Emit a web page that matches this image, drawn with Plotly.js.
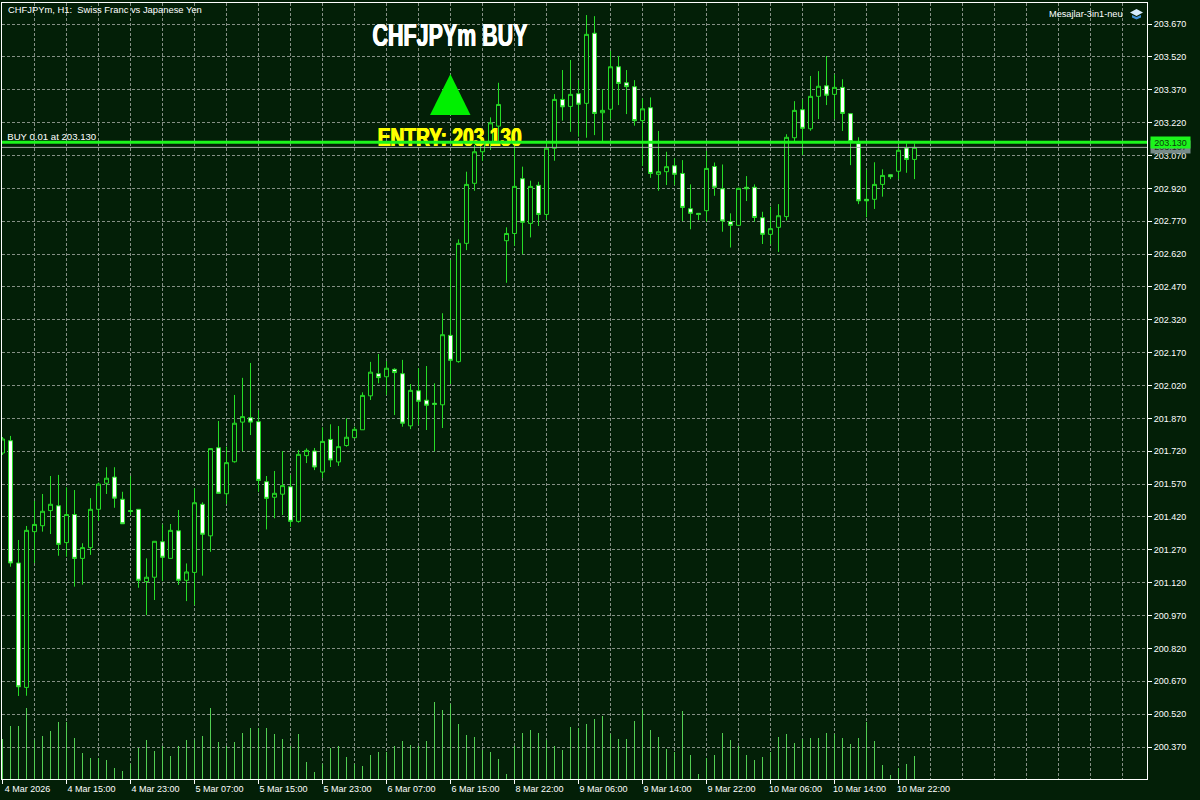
<!DOCTYPE html>
<html>
<head>
<meta charset="utf-8">
<script src="https://cdn.plot.ly/plotly-3.0.1.min.js"></script>
<style>html,body{margin:0;padding:0;background:#031f07;}#chart{width:1200px;height:800px;}</style>
</head>
<body>
<div id="chart"></div>
<script>
var open = [201.712,201.768,201.210,200.642,201.353,201.380,201.449,201.471,201.303,201.431,201.231,201.280,201.455,201.574,201.602,201.501,201.449,201.455,201.125,201.145,201.307,201.231,201.357,201.131,201.167,201.478,201.334,201.736,201.526,201.672,201.853,201.873,201.855,201.581,201.510,201.524,201.558,201.400,201.700,201.721,201.625,201.774,201.671,201.746,201.782,201.818,201.973,202.074,202.060,202.094,202.074,201.836,201.996,201.953,201.939,201.932,202.249,202.129,202.669,202.943,203.087,203.127,203.204,202.681,202.714,202.964,202.760,202.934,202.801,203.103,203.326,203.294,203.352,203.308,203.628,203.265,203.281,203.475,203.402,203.384,203.229,203.288,202.984,202.996,203.023,202.988,202.827,202.806,202.818,203.020,202.918,202.768,202.751,202.925,202.925,202.786,202.710,202.742,202.791,203.151,203.279,203.192,203.340,203.388,203.349,203.381,203.261,203.124,202.870,202.870,202.938,202.982,202.998,203.104,203.052];
var high = [201.785,201.790,201.315,201.379,201.494,201.525,201.607,201.612,201.555,201.543,201.300,201.506,201.577,201.647,201.647,201.535,201.607,201.455,201.231,201.310,201.386,201.388,201.452,201.208,201.551,201.487,201.733,201.858,201.741,201.977,202.055,202.123,201.908,201.607,201.630,201.721,201.612,201.726,201.733,201.735,201.829,201.843,201.835,201.870,201.832,201.989,202.128,202.164,202.132,202.099,202.137,202.027,202.099,202.109,202.030,202.350,202.593,202.687,202.996,203.118,203.141,203.244,203.402,202.742,203.141,203.019,202.955,202.950,203.133,203.350,203.460,203.506,203.414,203.711,203.706,203.372,203.548,203.524,203.460,203.414,203.331,203.335,203.182,203.087,203.057,203.049,202.938,202.807,203.091,203.038,203.029,202.806,202.923,202.976,202.938,202.813,202.836,202.848,203.167,203.318,203.326,203.433,203.455,203.524,203.440,203.418,203.262,203.153,203.004,203.039,203.007,202.984,203.118,203.125,203.125];
var low = [201.703,201.193,200.603,200.604,201.210,201.353,201.342,201.243,201.239,201.102,201.111,201.247,201.403,201.525,201.462,201.389,201.429,201.097,200.972,201.041,201.128,201.231,201.110,201.036,201.018,201.152,201.261,201.528,201.479,201.668,201.720,201.794,201.535,201.363,201.414,201.429,201.375,201.394,201.666,201.634,201.598,201.648,201.653,201.741,201.779,201.818,201.954,202.030,201.977,201.885,201.832,201.821,201.840,201.817,201.720,201.826,202.027,202.124,202.638,202.909,203.045,203.095,203.127,202.489,202.658,202.619,202.696,202.748,202.776,203.046,203.229,203.178,203.156,203.151,203.163,203.133,203.236,203.300,203.259,203.206,203.022,202.968,202.909,202.935,202.935,202.771,202.733,202.775,202.768,202.886,202.722,202.650,202.751,202.862,202.768,202.666,202.664,202.630,202.773,203.133,203.072,203.183,203.236,203.300,203.236,203.182,203.026,202.848,202.788,202.826,202.882,202.962,202.962,202.991,202.962];
var close = [201.776,201.210,200.645,201.359,201.386,201.446,201.478,201.295,201.431,201.231,201.280,201.455,201.570,201.597,201.506,201.389,201.445,201.131,201.145,201.309,201.236,201.359,201.131,201.169,201.485,201.341,201.732,201.528,201.668,201.848,201.878,201.853,201.587,201.505,201.528,201.563,201.400,201.706,201.724,201.648,201.765,201.680,201.741,201.784,201.820,201.975,202.081,202.056,202.099,202.079,201.848,201.998,201.948,201.930,201.934,202.252,202.135,202.669,202.938,203.087,203.127,203.219,203.303,202.714,202.929,202.765,202.929,202.801,203.103,203.326,203.292,203.349,203.304,203.623,203.262,203.276,203.475,203.399,203.384,203.229,203.283,202.988,202.996,203.019,202.984,202.833,202.806,202.801,203.011,202.925,202.771,202.751,202.920,202.918,202.787,202.710,202.736,202.795,203.153,203.276,203.194,203.340,203.386,203.345,203.381,203.262,203.133,202.863,202.863,202.938,202.979,202.973,203.094,203.052,203.107];
var volume = [40,53,53,71,39,43,48,57,57,41,26,21,21,19,11,8,15,31,39,28,33,23,33,39,39,43,71,37,33,37,46,51,51,51,45,40,33,45,17,7,15,31,33,22,15,13,24,27,27,33,38,34,33,38,77,69,75,55,44,42,29,27,20,5,33,46,49,46,39,33,29,52,51,55,60,63,45,40,40,58,69,49,42,30,27,68,24,5,21,24,46,39,33,24,19,22,27,42,45,36,40,41,41,46,45,41,35,41,57,38,14,4,11,15,23];
var barIndex = open.map(function(_, i){ return i; });

var timeTickIndex = [0,8,16,24,32,40,48,56,64,72,80,88,96,104,112];
var timeTickLabels = ["4 Mar 2026","4 Mar 15:00","4 Mar 23:00","5 Mar 07:00","5 Mar 15:00","5 Mar 23:00","6 Mar 07:00","6 Mar 15:00","8 Mar 22:00","9 Mar 06:00","9 Mar 14:00","9 Mar 22:00","10 Mar 06:00","10 Mar 14:00","10 Mar 22:00"];
var priceTicks = [203.67,203.52,203.37,203.22,203.07,202.92,202.77,202.62,202.47,202.32,202.17,202.02,201.87,201.72,201.57,201.42,201.27,201.12,200.97,200.82,200.67,200.52,200.37];
var priceTickLabels = ["203.670","203.520","203.370","203.220","203.070","202.920","202.770","202.620","202.470","202.320","202.170","202.020","201.870","201.720","201.570","201.420","201.270","201.120","200.970","200.820","200.670","200.520","200.370"];

var entryPrice = 203.130;
var bidPrice = 203.107;
var priceRange = [200.224, 203.766];
var indexRange = [-0.0625, 143.0625];
var volumeRange = [0, 776];
var triangleX = [53.44, 55.98, 58.5];
var triangleY = [203.255, 203.442, 203.255];

var BG = "#031f07", GRID = "#858f85", GREEN = "#26dc26", LINE = "#1cf51c";
var FONT = "'Liberation Sans', Arial, sans-serif";

var traces = [
  {type:"bar", x:barIndex, y:volume, yaxis:"y2", width:0.125, marker:{color:"#52cf52", line:{width:0}}, hoverinfo:"skip"},
  {type:"candlestick", x:barIndex, open:open, high:high, low:low, close:close, whiskerwidth:0,
   increasing:{line:{color:GREEN,width:1}, fillcolor:BG},
   decreasing:{line:{color:GREEN,width:1}, fillcolor:"#ffffff"}, hoverinfo:"skip"},
  {type:"scatter", mode:"lines", x:triangleX, y:triangleY, fill:"toself", fillcolor:"#00f000", line:{width:0}, hoverinfo:"skip"},
  {type:"scatter", mode:"text", x:[55.94], y:[203.608], text:["CHFJPYm BUY"], textposition:"middle center",
   textfont:{family:FONT, size:32, color:"#ffffff", weight:700, shadow:"0.6px 0 0 #ffffff, -0.6px 0 0 #ffffff"}, hoverinfo:"skip"},
  {type:"scatter", mode:"text", x:[55.9], y:[203.141], text:["ENTRY: 203.130"], textposition:"middle center",
   textfont:{family:FONT, size:26, color:"#ffff00", weight:700, shadow:"0.6px 0 0 #ffff00, -0.6px 0 0 #ffff00"}, hoverinfo:"skip"},
  {type:"scatter", mode:"text", x:[0.6], y:[203.150], text:["BUY 0.01 at 203.130"], textposition:"middle right",
   textfont:{family:FONT, size:9.6, color:"#ffffff"}, hoverinfo:"skip"},
  {type:"scatter", mode:"lines", x:indexRange, y:[bidPrice,bidPrice], line:{color:"#a8b0a8",width:1}, hoverinfo:"skip"},
  {type:"scatter", mode:"lines", x:indexRange, y:[entryPrice,entryPrice], line:{color:LINE,width:3}, hoverinfo:"skip"}
];

function px(x){ return (x-2)/1145; }
function py(y){ return (779-y)/776; }
function path(pts){ return "M"+pts.map(function(p){return px(p[0])+","+py(p[1]);}).join("L")+"Z"; }

var layout = {
  width:1200, height:800, autosize:false, showlegend:false, hovermode:false,
  paper_bgcolor:BG, plot_bgcolor:BG,
  margin:{l:2, r:53, t:3, b:21, pad:0},
  boxgap:0.5, boxgroupgap:0, bargap:0,
  font:{family:FONT, size:9, color:"#ffffff"},
  xaxis:{type:"linear", range:indexRange, tickmode:"array", tickvals:timeTickIndex, ticktext:timeTickLabels,
    ticks:"outside", ticklen:4, tickwidth:1, tickcolor:"#ffffff", tickangle:0,
    tickfont:{family:FONT,size:9,color:"#ffffff"}, ticklabelshift:25, ticklabelstandoff:-3,
    showgrid:true, gridcolor:GRID, griddash:"3px,2px", gridwidth:1,
    minor:{tick0:0, dtick:4, showgrid:true, gridcolor:GRID, griddash:"3px,2px", gridwidth:1, ticks:""},
    rangeslider:{visible:false}, showline:true, linecolor:"#ffffff", linewidth:1, mirror:true, zeroline:false, fixedrange:true},
  yaxis:{range:priceRange, side:"right", tickmode:"array", tickvals:priceTicks, ticktext:priceTickLabels,
    ticks:"outside", ticklen:4, tickwidth:1, tickcolor:"#ffffff",
    tickfont:{family:FONT,size:9,color:"#ffffff"},
    showgrid:true, gridcolor:GRID, griddash:"3px,2px", gridwidth:1,
    showline:true, linecolor:"#ffffff", linewidth:1, mirror:true, zeroline:false, fixedrange:true},
  yaxis2:{range:volumeRange, overlaying:"y", side:"left", visible:false, fixedrange:true},
  shapes:[
    {type:"path", xref:"paper", yref:"paper", layer:"above", path:path([[1132,15],[1136.5,17],[1141,15],[1141,17.5],[1136.5,19.5],[1132,17.5]]), fillcolor:"#3f8fd6", line:{width:0}},
    {type:"path", xref:"paper", yref:"paper", layer:"above", path:path([[1136.5,9],[1143,12.5],[1136.5,16],[1130,12.5]]), fillcolor:"#d6ecff", line:{width:0}}
  ],
  annotations:[
    {xref:"paper", yref:"paper", x:px(1125), y:py(14), xanchor:"right", yanchor:"middle", text:"Mesajlar-3in1-neu", showarrow:false, font:{family:FONT,size:9.2,color:"#ffffff"}},
    {xref:"paper", yref:"paper", x:px(6), y:py(10), xanchor:"left", yanchor:"middle", text:"CHFJPYm, H1:  Swiss Franc vs Japanese Yen", showarrow:false, font:{family:FONT,size:9.4,color:"#ffffff"}},
    {xref:"paper", yref:"y", x:px(1150), y:bidPrice, xanchor:"left", yanchor:"middle", width:39, height:12, borderpad:0, bgcolor:"#778a88", text:"203.107", showarrow:false, font:{family:FONT,size:9,color:"#1a2a1a"}},
    {xref:"paper", yref:"y", x:px(1150), y:entryPrice, xanchor:"left", yanchor:"middle", width:39, height:11, borderpad:0, bgcolor:"#1cf51c", text:"203.130", showarrow:false, font:{family:FONT,size:9,color:"#0a3a0a"}}
  ]
};

var headingWidths = {"CHFJPYm BUY":155, "ENTRY: 203.130":144};
Plotly.newPlot("chart", traces, layout, {displayModeBar:false, staticPlot:true}).then(function(){
  document.querySelectorAll("#chart .textpoint text").forEach(function(t){
    var w = headingWidths[t.textContent];
    if(w){ t.setAttribute("textLength", w); t.setAttribute("lengthAdjust", "spacingAndGlyphs"); }
  });
});
</script>
</body>
</html>
